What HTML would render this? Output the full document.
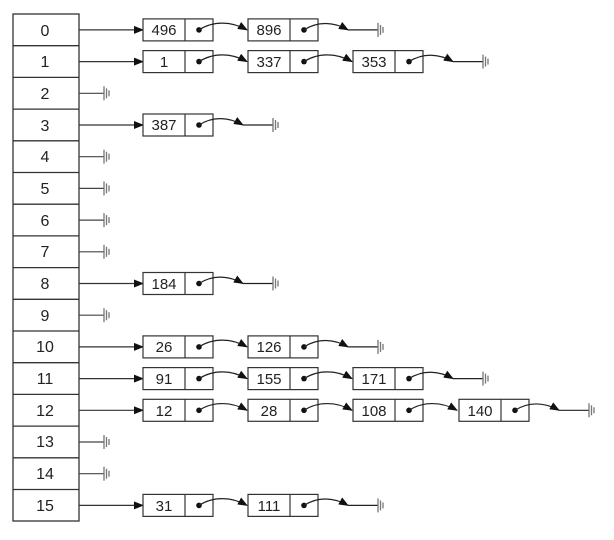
<!DOCTYPE html>
<html><head><meta charset="utf-8"><style>
html,body{margin:0;padding:0;background:#fff;}
svg{display:block;}
text{font-family:"Liberation Sans",Arial,sans-serif;fill:#222;}
</style></head><body>
<svg width="614" height="540" viewBox="0 0 614 540" xmlns="http://www.w3.org/2000/svg">
<defs>
<marker id="ah" markerWidth="10" markerHeight="8" refX="9" refY="4" orient="auto" markerUnits="userSpaceOnUse"><path d="M0,0 L10,4 L0,8 Z" fill="#111"/></marker>
<g id="gnd" stroke="#777" stroke-width="1.3"><line x1="0" y1="-7" x2="0" y2="7"/><line x1="2.5" y1="-5" x2="2.5" y2="5"/><line x1="5" y1="-3" x2="5" y2="3"/></g>
<g id="nd"><rect x="0" y="-11" width="70" height="22" fill="#fff" stroke="#333" stroke-width="1.2"/><line x1="42" y1="-11" x2="42" y2="11" stroke="#333" stroke-width="1.2"/><circle cx="56" cy="0" r="2.8" fill="#111"/></g>
<g id="ln"><path d="M56,0 C70,-9 88,-9 104,0" fill="none" stroke="#222" stroke-width="1.2" marker-end="url(#ah)"/></g>
<g id="end"><path d="M56,0 C70,-9 86,-8 100,0" fill="none" stroke="#222" stroke-width="1.2" marker-end="url(#ah)"/><line x1="100" y1="0" x2="130" y2="0" stroke="#222" stroke-width="1.2"/><use href="#gnd" x="130" y="0"/></g>
<g id="nul"><line x1="79" y1="0" x2="104" y2="0" stroke="#444" stroke-width="1.2"/><use href="#gnd" x="104" y="0"/></g>
<g id="arr"><line x1="79" y1="0" x2="143" y2="0" stroke="#333" stroke-width="1.2" marker-end="url(#ah)"/></g>
</defs>
<g stroke="#333" stroke-width="1.3" fill="none">
<rect x="13" y="14" width="66" height="507"/>
<line x1="13" y1="45.7" x2="79" y2="45.7"/><line x1="13" y1="77.4" x2="79" y2="77.4"/><line x1="13" y1="109.1" x2="79" y2="109.1"/><line x1="13" y1="140.8" x2="79" y2="140.8"/><line x1="13" y1="172.5" x2="79" y2="172.5"/><line x1="13" y1="204.2" x2="79" y2="204.2"/><line x1="13" y1="235.9" x2="79" y2="235.9"/><line x1="13" y1="267.6" x2="79" y2="267.6"/><line x1="13" y1="299.3" x2="79" y2="299.3"/><line x1="13" y1="331" x2="79" y2="331"/><line x1="13" y1="362.7" x2="79" y2="362.7"/><line x1="13" y1="394.4" x2="79" y2="394.4"/><line x1="13" y1="426.1" x2="79" y2="426.1"/><line x1="13" y1="457.8" x2="79" y2="457.8"/><line x1="13" y1="489.5" x2="79" y2="489.5"/>
</g>
<g font-size="16" text-anchor="middle">
<text x="45" y="36">0</text><text x="45" y="67">1</text><text x="45" y="99">2</text><text x="45" y="131">3</text><text x="45" y="162">4</text><text x="45" y="194">5</text><text x="45" y="226">6</text><text x="45" y="257">7</text><text x="45" y="289">8</text><text x="45" y="321">9</text><text x="45" y="352">10</text><text x="45" y="384">11</text><text x="45" y="416">12</text><text x="45" y="447">13</text><text x="45" y="479">14</text><text x="45" y="511">15</text>
</g>
<!-- null rows -->
<use href="#nul" y="93.3"/><use href="#nul" y="156.7"/><use href="#nul" y="188.4"/><use href="#nul" y="220.1"/><use href="#nul" y="251.8"/><use href="#nul" y="315.2"/><use href="#nul" y="442"/><use href="#nul" y="473.7"/>
<!-- arrows -->
<use href="#arr" y="29.9"/><use href="#arr" y="61.6"/><use href="#arr" y="125"/><use href="#arr" y="283.5"/><use href="#arr" y="346.9"/><use href="#arr" y="378.6"/><use href="#arr" y="410.3"/><use href="#arr" y="505.4"/>
<!-- row 0 -->
<g transform="translate(143,29.9)"><use href="#nd"/><use href="#ln"/></g>
<g transform="translate(248,29.9)"><use href="#nd"/><use href="#end"/></g>
<!-- row 1 -->
<g transform="translate(143,61.6)"><use href="#nd"/><use href="#ln"/></g>
<g transform="translate(248,61.6)"><use href="#nd"/><use href="#ln"/></g>
<g transform="translate(353,61.6)"><use href="#nd"/><use href="#end"/></g>
<!-- row 3 -->
<g transform="translate(143,125)"><use href="#nd"/><use href="#end"/></g>
<!-- row 8 -->
<g transform="translate(143,283.5)"><use href="#nd"/><use href="#end"/></g>
<!-- row 10 -->
<g transform="translate(143,346.9)"><use href="#nd"/><use href="#ln"/></g>
<g transform="translate(248,346.9)"><use href="#nd"/><use href="#end"/></g>
<!-- row 11 -->
<g transform="translate(143,378.6)"><use href="#nd"/><use href="#ln"/></g>
<g transform="translate(248,378.6)"><use href="#nd"/><use href="#ln"/></g>
<g transform="translate(353,378.6)"><use href="#nd"/><use href="#end"/></g>
<!-- row 12 -->
<g transform="translate(143,410.3)"><use href="#nd"/><use href="#ln"/></g>
<g transform="translate(248,410.3)"><use href="#nd"/><use href="#ln"/></g>
<g transform="translate(353,410.3)"><use href="#nd"/><use href="#ln"/></g>
<g transform="translate(459,410.3)"><use href="#nd"/><use href="#end"/></g>
<!-- row 15 -->
<g transform="translate(143,505.4)"><use href="#nd"/><use href="#ln"/></g>
<g transform="translate(248,505.4)"><use href="#nd"/><use href="#end"/></g>
<!-- values -->
<g font-size="15" text-anchor="middle">
<text x="164" y="35">496</text><text x="269" y="35">896</text>
<text x="164" y="67">1</text><text x="269" y="67">337</text><text x="374" y="67">353</text>
<text x="164" y="130">387</text>
<text x="164" y="289">184</text>
<text x="164" y="352">26</text><text x="269" y="352">126</text>
<text x="164" y="384">91</text><text x="269" y="384">155</text><text x="374" y="384">171</text>
<text x="164" y="416">12</text><text x="269" y="416">28</text><text x="374" y="416">108</text><text x="480" y="416">140</text>
<text x="164" y="511">31</text><text x="269" y="511">111</text>
</g>
</svg>
</body></html>
